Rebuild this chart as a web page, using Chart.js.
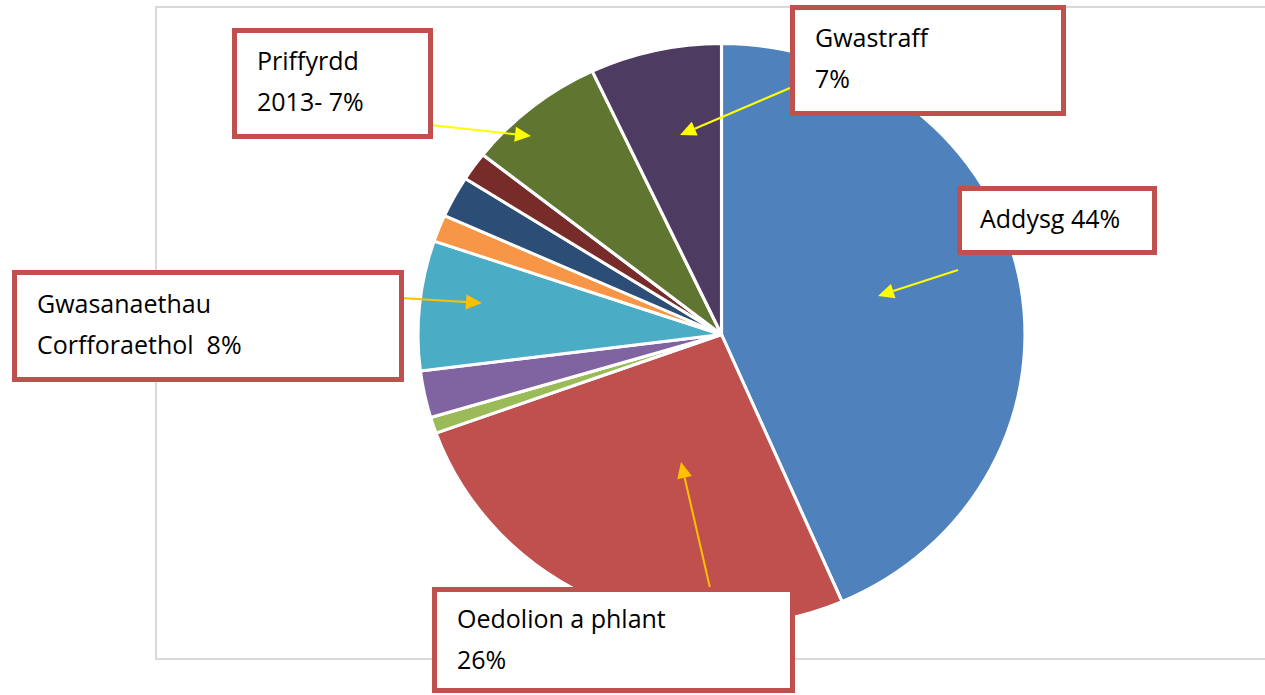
<!DOCTYPE html>
<html>
<head>
<meta charset="utf-8">
<script src="https://cdn.jsdelivr.net/npm/chart.js@4.4.0/dist/chart.umd.min.js"></script>
<style>
  html, body { margin: 0; padding: 0; background: #fff; overflow: hidden; }
  #wrap { position: relative; width: 1265px; height: 695px; }
  #frame { position: absolute; left: 155px; top: 6px; width: 1120px; height: 654px; border: 2px solid #D9D9D9; box-sizing: border-box; }
  canvas { position: absolute; left: 0; top: 0; }
  .box { position: absolute; box-sizing: border-box; border: 5px solid #C0504D; background: #fff;
         font-family: "Open Sans", sans-serif; font-size: 25px; line-height: 41px; color: #000; white-space: pre; }
</style>
</head>
<body>
<div id="wrap">
  <div id="frame"></div>
  <canvas id="c" width="1265" height="695"></canvas>
  <div class="box" style="left:232px;top:28px;width:201px;height:111px;padding:7px 0 0 20px;">Priffyrdd
2013- 7%</div>
  <div class="box" style="left:790px;top:5px;width:276px;height:111px;padding:7px 0 0 20px;">Gwastraff
7%</div>
  <div class="box" style="left:957px;top:186px;width:200px;height:69px;padding:7px 0 0 18px;">Addysg 44%</div>
  <div class="box" style="left:12px;top:270px;width:392px;height:112px;padding:8px 0 0 20px;">Gwasanaethau
Corfforaethol  8%</div>
  <div class="box" style="left:432px;top:587px;width:363px;height:106px;padding:6px 0 0 20px;">Oedolion a phlant
26%</div>
</div>
<script>
const categories = ["Addysg", "Oedolion a phlant", "Arall 1", "Arall 2", "Gwasanaethau Corfforaethol",
                    "Arall 3", "Arall 4", "Arall 5", "Priffyrdd", "Gwastraff"];
const shares = [43.5, 26, 0.9, 2.6, 7.2, 1.5, 2.3, 1.6, 7.4, 7.0];
const colors = ["#4F81BD", "#C0504D", "#9BBB59", "#8064A2", "#4BACC6",
                "#F79646", "#2C4D75", "#772C2A", "#5F7530", "#4D3B62"];

// annotation arrows: [x1, y1, tipX, tipY, colour]
const arrows = [
  [430, 125, 531, 136, "#FFFF00"],
  [790, 88, 680, 135, "#FFFF00"],
  [958, 270, 878, 296, "#FFFF00"],
  [384, 297, 482, 303, "#FFC000"],
  [710, 588, 681, 462, "#FFC000"]
];

const stretchX = 1.043; // the original pie is slightly wider than tall

const ellipsePlugin = {
  id: "ellipse",
  beforeDatasetsDraw(chart) {
    const a = chart.chartArea;
    const cx = (a.left + a.right) / 2;
    chart.ctx.save();
    chart.ctx.translate(cx, 0);
    chart.ctx.scale(stretchX, 1);
    chart.ctx.translate(-cx, 0);
  },
  afterDatasetsDraw(chart) {
    chart.ctx.restore();
  }
};

const arrowPlugin = {
  id: "arrows",
  afterDraw(chart) {
    const ctx = chart.ctx;
    ctx.save();
    arrows.forEach(([x1, y1, x2, y2, col]) => {
      const ang = Math.atan2(y2 - y1, x2 - x1);
      const L = 16, W = 7.5;
      const bx = x2 - L * Math.cos(ang), by = y2 - L * Math.sin(ang);
      ctx.strokeStyle = col; ctx.fillStyle = col; ctx.lineWidth = 2;
      ctx.beginPath(); ctx.moveTo(x1, y1); ctx.lineTo(bx, by); ctx.stroke();
      ctx.beginPath();
      ctx.moveTo(x2, y2);
      ctx.lineTo(bx + W * Math.sin(ang), by - W * Math.cos(ang));
      ctx.lineTo(bx - W * Math.sin(ang), by + W * Math.cos(ang));
      ctx.closePath(); ctx.fill();
    });
    ctx.restore();
  }
};

new Chart(document.getElementById("c"), {
  type: "pie",
  data: {
    labels: categories,
    datasets: [{ data: shares, backgroundColor: colors, borderColor: "#ffffff", borderWidth: 3, hoverOffset: 0 }]
  },
  options: {
    responsive: false,
    animation: false,
    events: [],
    layout: { padding: { top: 42, bottom: 68, left: 429, right: 251 } },
    plugins: { legend: { display: false }, tooltip: { enabled: false } }
  },
  plugins: [ellipsePlugin, arrowPlugin]
});
</script>
</body>
</html>
